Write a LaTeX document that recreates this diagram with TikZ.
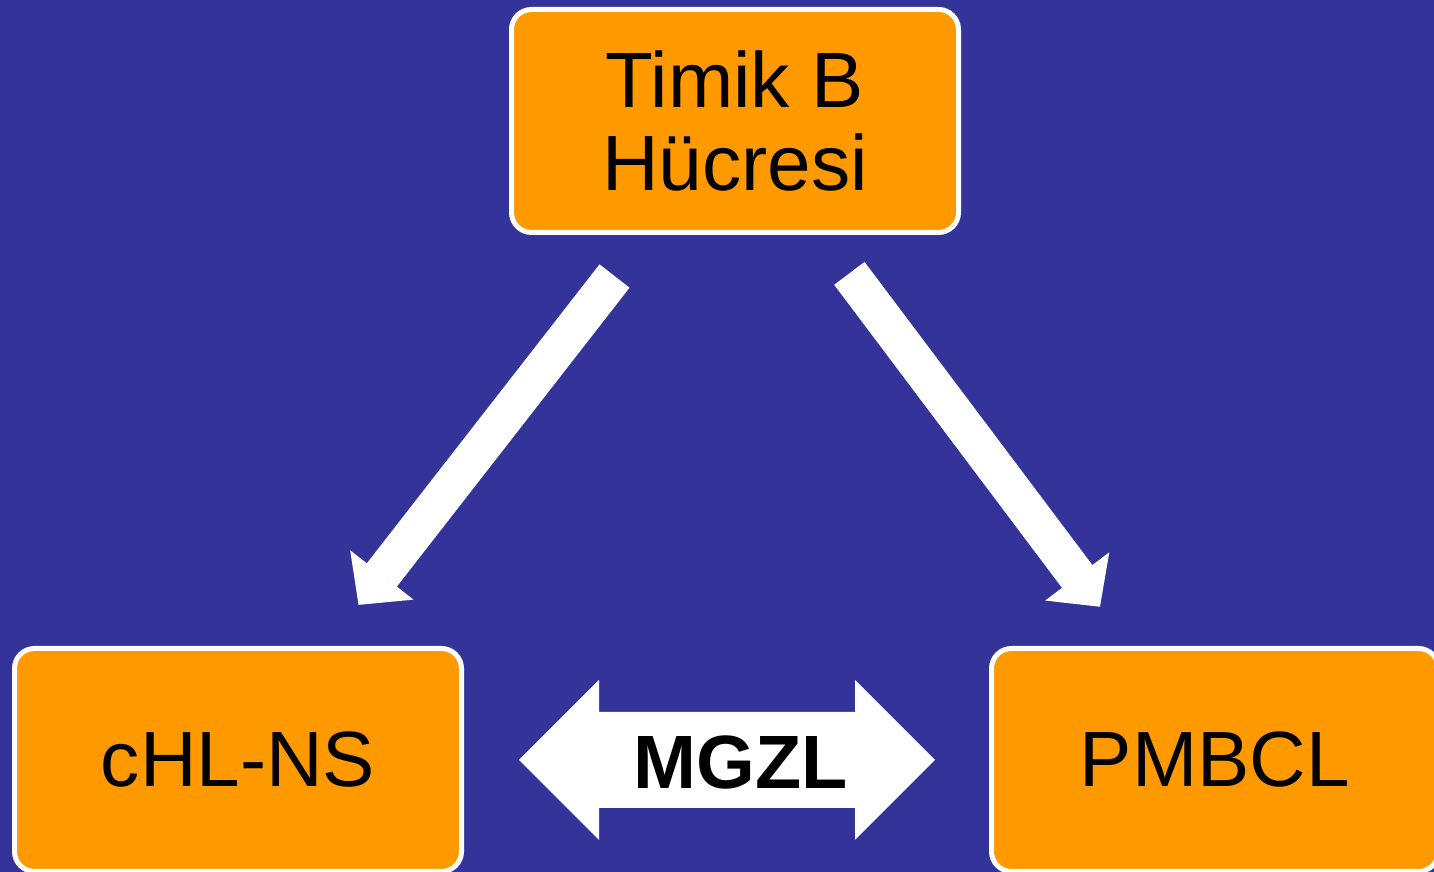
\documentclass[tikz,border=0pt]{standalone}
\usepackage{fontspec}
\setmainfont{Liberation Sans}
\usepackage{xcolor}
\usetikzlibrary{arrows.meta, positioning}

\definecolor{slideblue}{RGB}{51,51,153}
\definecolor{boxorange}{RGB}{255,153,0}

\begin{document}
\begin{tikzpicture}[>={Triangle[length=0.38cm,width=0.78cm]},
        box/.style={draw=white,fill=boxorange,line width=0.05cm,rounded corners=0.2cm,
            minimum width=4.47cm,minimum height=2.23cm,align=center,
            font=\fontsize{22.3}{23.4}\selectfont},
        bigarrow/.style={->,draw=white,line width=0.38cm}]

    \useasboundingbox (0,0) rectangle (14.34,8.72);
    \fill[slideblue] (0,0) rectangle (14.34,8.72);

    \node[box] (timik) at (7.35,7.51) {Timik B\\Hücresi};
    \node[box] (chl)   at (2.38,1.12) {cHL-NS};
    \node[box] (pmbcl) at (12.15,1.12) {PMBCL};

    \draw[bigarrow,shorten <=0.52cm,shorten >=0.52cm] (timik) -- (chl);
    \draw[bigarrow,shorten <=0.48cm,shorten >=0.49cm] (timik) -- (pmbcl);

    % double block arrow between the lower boxes
    \fill[white] (5.19,1.12) -- (5.99,1.92) -- (5.99,1.60) -- (8.55,1.60) -- (8.55,1.92)
        -- (9.35,1.12) -- (8.55,0.32) -- (8.55,0.64) -- (5.99,0.64) -- (5.99,0.32) -- cycle;
    \node[font=\fontsize{21.5}{24}\selectfont\bfseries] (mgzl) at (7.41,1.10) {MGZL};
\end{tikzpicture}
\end{document}
